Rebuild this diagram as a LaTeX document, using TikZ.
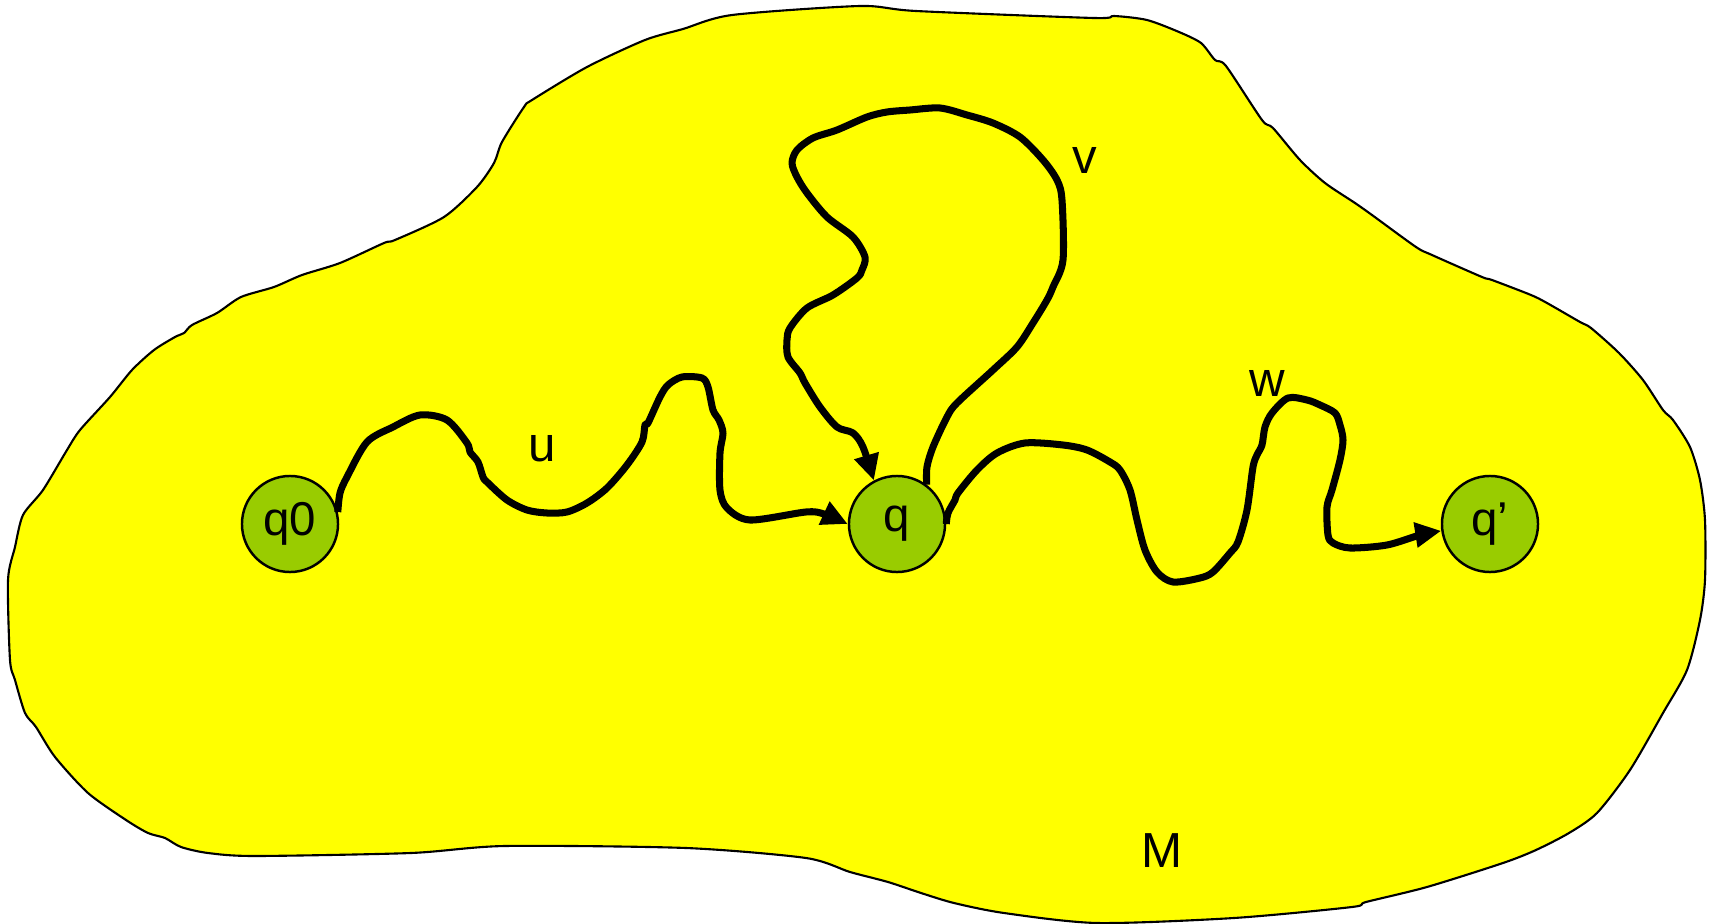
\documentclass[tikz,border=0pt]{standalone}
\usepackage{fontspec}
\setmainfont{Liberation Sans}
\usetikzlibrary{arrows.meta, positioning}
\definecolor{regionyellow}{HTML}{FFFF00}
\definecolor{stategreen}{HTML}{99CC00}
\tikzset{
  >={Triangle[length=0.26cm, width=0.24cm]},
  every picture/.style={line cap=butt, line join=round},
  region/.style={draw=black, line width=0.6pt, fill=regionyellow},
  state/.style={circle, draw=black, line width=0.7pt, fill=stategreen,
    minimum size=0.96cm, inner sep=0pt, font=\fontsize{13.5}{15}\selectfont},
  walk/.style={->, line width=2pt, smooth, tension=0.5},
  word/.style={font=\fontsize{14}{16}\selectfont, inner sep=0pt},
}
% outline of the region M (pixel units, y downwards)
\newcommand\regionoutline{plot[smooth cycle, tension=0.45] coordinates {
  (860,6) (916,11) (1094,18) (1114,16) (1147,20) (1179,32) (1201,43) (1215,60)
  (1226,66) (1262,120) (1273,128) (1300,160) (1325,183) (1355,203) (1372,215)
  (1416,247) (1432,255) (1482,277) (1492,280) (1531,295) (1547,303) (1580,322)
  (1591,328) (1619,353) (1643,380) (1663,410) (1673,420) (1690,447) (1700,480)
  (1705,520) (1705,580) (1700,620) (1687,670) (1663,713) (1630,770) (1597,813)
  (1569,833) (1536,850) (1503,863) (1427,887) (1366,902) (1352,907) (1234,918)
  (1097,923) (1004,913) (954,903) (921,893) (888,882) (850,872) (806,858)
  (686,848) (505,846) (411,853) (255,856) (208,853) (181,847) (165,838)
  (148,833) (126,820) (88,793) (55,757) (36,727) (25,713) (15,680) (10,660)
  (8,580) (15,547) (23,515) (43,490) (67,450) (80,430) (110,397) (132,370)
  (154,350) (175,337) (184,333) (192,325) (217,313) (241,297) (274,287)
  (302,275) (340,263) (384,243) (395,240) (444,217) (477,187) (494,163)
  (502,142) (524,107) (532,100) (587,67) (645,40) (683,29) (732,15)}}

\begin{document}
\begin{tikzpicture}[x=0.01cm, y=-0.01cm]
  \useasboundingbox (0,0) rectangle (1711,924);
  \draw[region] \regionoutline;
  % states
  \node[state] (q0) at (290,524) {q0};
  \node[state] (q) at (897,524) {q};
  \node[state] (qp) at (1490,524) {q’};
  % walk u from q0 to q
  \draw[walk] plot coordinates {(q0.14) (340,493) (347,477) (367,442) (393,427)
    (420,415) (447,420) (467,443) (470,452) (478,462) (483,477) (487,482)
    (507,500) (527,510) (547,513) (567,512) (587,503) (607,488) (627,465)
    (642,442) (645,425) (648,423) (660,397) (668,385) (682,377) (702,378)
    (708,387) (713,410) (719,420) (723,433) (720,453) (720,490) (727,508)
    (750,520) (806,512) (824,514) (q.180)};
  % loop v on q
  \draw[walk] plot coordinates {(q.53) (927,467) (933,447) (947,417) (957,403)
    (993,370) (1017,347) (1033,323) (1047,300) (1053,287) (1063,260)
    (1062,200) (1057,180) (1043,160) (1020,137) (993,123) (967,115) (940,108)
    (910,110) (887,112) (867,117) (837,130) (813,138) (797,150) (792,163)
    (797,177) (807,193) (827,217) (853,237) (865,257) (862,270) (857,278)
    (833,295) (807,308) (790,328) (787,340) (788,357) (800,373) (805,383)
    (820,407) (837,427) (853,433) (863,447) (q.118)};
  % walk w from q to q'
  \draw[walk] plot coordinates {(q.0) (948,513) (955,500) (958,493) (977,470)
    (997,453) (1025,443) (1063,445) (1087,450) (1110,462) (1120,470)
    (1130,490) (1137,520) (1145,550) (1157,572) (1173,582) (1200,578)
    (1213,572) (1230,553) (1238,542) (1247,510) (1253,467) (1257,455)
    (1262,445) (1265,427) (1272,413) (1288,398) (1307,400) (1320,405)
    (1335,413) (1340,425) (1343,440) (1340,460) (1332,490) (1327,507)
    (1328,535) (1333,543) (1350,548) (1387,545) (1420,535) (qp.188)};
  % labels
  \node[word] (lu) at (542,449) {u};
  \node[word] (lv) at (1085,160) {v};
  \node[word] (lw) at (1267,383) {w};
  \node[word] (lm) at (1162,851) {M};
\end{tikzpicture}
\end{document}
